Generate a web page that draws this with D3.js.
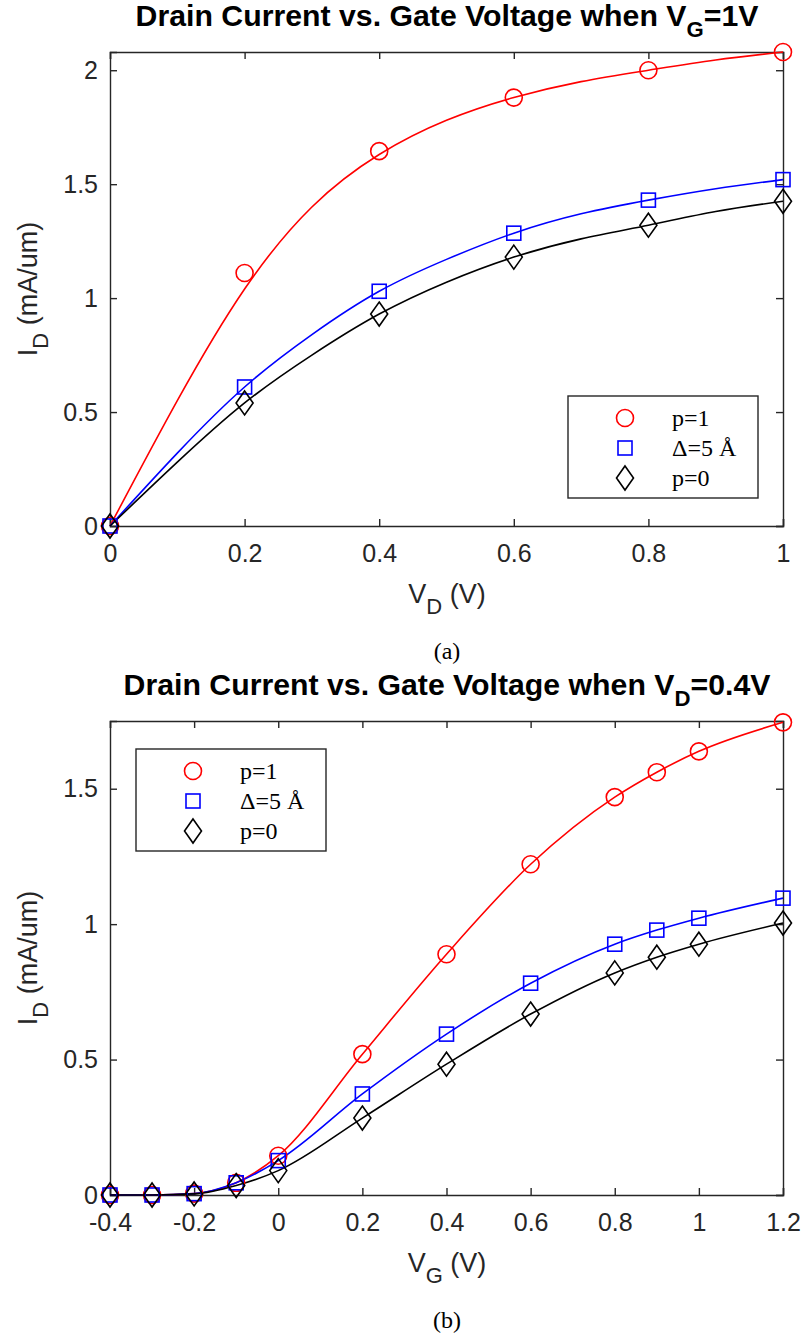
<!DOCTYPE html>
<html>
<head>
<meta charset="utf-8">
<script src="https://cdn.jsdelivr.net/npm/d3@7"></script>
<style>
  body { margin: 0; background: #fff; }
  svg { display: block; }
  .tick text { font-family: "Liberation Sans", Arial, sans-serif; font-size: 25px; fill: #262626; }
  .lbl { font-family: "Liberation Sans", Arial, sans-serif; font-size: 27px; fill: #262626; }
  .ttl { font-family: "Liberation Sans", Arial, sans-serif; font-weight: bold; font-size: 30px; fill: #000; }
  .serif { font-family: "Liberation Serif", "DejaVu Serif", serif; font-size: 24px; fill: #000; }
</style>
</head>
<body>
<div id="chart"></div>
<script>
// ---- data (a): I_D vs V_D at V_G = 1V ----
const vdPts = [0, 0.2, 0.4, 0.6, 0.8, 1.0];
const p1A = [0, 1.11, 1.645, 1.88, 2.00, 2.08];
const deltaA = [0, 0.61, 1.03, 1.285, 1.43, 1.52];
const p0A = [0, 0.54, 0.93, 1.18, 1.32, 1.425];

// fitted curves (a)
const vdFit = [0, 0.1, 0.2, 0.3, 0.4, 0.5, 0.6, 0.7, 0.8, 0.9, 1.0];
const p1FitA = [0, 0.55, 1.04, 1.40, 1.63, 1.78, 1.88, 1.95, 2.00, 2.045, 2.08];
const deltaFitA = [0, 0.32, 0.61, 0.84, 1.03, 1.17, 1.285, 1.37, 1.43, 1.48, 1.52];
const p0FitA = [0, 0.28, 0.54, 0.75, 0.93, 1.07, 1.18, 1.26, 1.32, 1.38, 1.425];

// ---- data (b): I_D vs V_G at V_D = 0.4V ----
const vgPts = [-0.4, -0.3, -0.2, -0.1, 0, 0.2, 0.4, 0.6, 0.8, 0.9, 1.0, 1.2];
const p1B = [0, 0, 0.005, 0.045, 0.145, 0.52, 0.889, 1.221, 1.469, 1.561, 1.638, 1.745];
const deltaB = [0, 0, 0.005, 0.045, 0.127, 0.373, 0.594, 0.782, 0.926, 0.978, 1.022, 1.096];
const p0B = [0, 0, 0.004, 0.035, 0.090, 0.284, 0.483, 0.668, 0.82, 0.878, 0.926, 1.004];

const xTicksA = [0, 0.2, 0.4, 0.6, 0.8, 1];
const yTicksA = [0, 0.5, 1, 1.5, 2];
const xTicksB = [-0.4, -0.2, 0, 0.2, 0.4, 0.6, 0.8, 1, 1.2];
const yTicksB = [0, 0.5, 1, 1.5];

const seriesNames = ["p=1", "\u0394=5 \u00C5", "p=0"];
const seriesColors = ["#ff0000", "#0000ff", "#000000"];
const seriesShapes = ["circle", "square", "diamond"];

const W = 804, H = 1338;
const svg = d3.select("#chart").append("svg")
    .attr("width", W)
    .attr("height", H);

function marker(g, shape, color, x, y) {
    if (shape === "circle") {
        g.append("circle").attr("cx", x).attr("cy", y).attr("r", 8.5)
            .attr("fill", "none").attr("stroke", color).attr("stroke-width", 1.6);
    } else if (shape === "square") {
        g.append("rect").attr("x", x - 7).attr("y", y - 7).attr("width", 14).attr("height", 14)
            .attr("fill", "none").attr("stroke", color).attr("stroke-width", 1.6);
    } else {
        g.append("path").attr("d", `M${x},${y - 12}L${x + 8.5},${y}L${x},${y + 12}L${x - 8.5},${y}Z`)
            .attr("fill", "none").attr("stroke", color).attr("stroke-width", 1.6);
    }
}

function drawPanel(cfg) {
    let x = d3.scaleLinear().domain(cfg.xDomain).range([110, 783]);
    let y = d3.scaleLinear().domain(cfg.yDomain).range([cfg.bottom, cfg.top]);
    let g = svg.append("g");

    // title (bold face squeezed horizontally to look like the narrow original)
    let t = g.append("text").attr("class", "ttl")
        .attr("text-anchor", "middle");
    t.append("tspan").text(cfg.title[0]);
    t.append("tspan").attr("font-size", 22).attr("dy", 11).text(cfg.title[1]);
    t.append("tspan").attr("dy", -11).text(cfg.title[2]);
    let tw = t.node().getBBox().width;
    t.attr("transform", `translate(447,${cfg.top - 26}) scale(${cfg.titleWidth / tw},1)`);

    // axes with inward ticks on all four sides
    let fmt = d => String(d);
    g.append("g").attr("transform", `translate(0,${cfg.bottom})`)
        .call(d3.axisBottom(x).tickValues(cfg.xTicks).tickSize(-7).tickPadding(18).tickFormat(fmt));
    g.append("g").attr("transform", `translate(0,${cfg.top})`)
        .call(d3.axisTop(x).tickValues(cfg.xTicks).tickSize(-7).tickFormat(""));
    g.append("g").attr("transform", "translate(110,0)")
        .call(d3.axisLeft(y).tickValues(cfg.yTicks).tickSize(-7).tickPadding(12).tickFormat(fmt));
    g.append("g").attr("transform", "translate(783,0)")
        .call(d3.axisRight(y).tickValues(cfg.yTicks).tickSize(-7).tickFormat(""));
    g.selectAll(".domain, .tick line").attr("stroke", "#262626").attr("stroke-width", 1.4);

    // axis labels
    let xl = g.append("text").attr("class", "lbl")
        .attr("x", 447).attr("y", cfg.bottom + 77).attr("text-anchor", "middle");
    xl.append("tspan").text("V");
    xl.append("tspan").attr("font-size", 22).attr("dy", 11).text(cfg.xSub);
    xl.append("tspan").attr("dy", -11).text(" (V)");

    let yl = g.append("text").attr("class", "lbl")
        .attr("transform", `translate(37,${(cfg.top + cfg.bottom) / 2}) rotate(-90)`)
        .attr("text-anchor", "middle");
    yl.append("tspan").text("I");
    yl.append("tspan").attr("font-size", 22).attr("dy", 11).text("D");
    yl.append("tspan").attr("dy", -11).text(" (mA/um)");

    // caption
    g.append("text").attr("class", "serif")
        .attr("x", 447).attr("y", cfg.bottom + 133).attr("text-anchor", "middle")
        .text(cfg.caption);

    // curves
    let line = d3.line().x(d => x(d[0])).y(d => y(d[1])).curve(cfg.curve);
    cfg.curves.forEach((c, i) => {
        g.append("path")
            .datum(c.xs.map((v, j) => [v, c.ys[j]]))
            .attr("d", line)
            .attr("fill", "none")
            .attr("stroke", seriesColors[i])
            .attr("stroke-width", 1.6);
    });

    // markers
    cfg.points.forEach((ys, i) => {
        cfg.xPts.forEach((xv, j) => marker(g, seriesShapes[i], seriesColors[i], x(xv), y(ys[j])));
    });

    // legend
    let lg = g.append("g").attr("transform", `translate(${cfg.legend[0]},${cfg.legend[1]})`);
    lg.append("rect").attr("width", 190).attr("height", 102)
        .attr("fill", "#fff").attr("stroke", "#262626").attr("stroke-width", 1.4);
    seriesNames.forEach((name, i) => {
        let yy = 22 + i * 30;
        marker(lg, seriesShapes[i], seriesColors[i], 57, yy);
        lg.append("text").attr("class", "serif")
            .attr("x", 104).attr("y", yy + 8).text(name);
    });
}

drawPanel({
    top: 52, bottom: 526,
    xDomain: [0, 1], yDomain: [0, 2.08],
    xTicks: xTicksA, yTicks: yTicksA,
    title: ["Drain Current vs. Gate Voltage when V", "G", "=1V"],
    titleWidth: 623,
    xSub: "D", caption: "(a)",
    xPts: vdPts,
    points: [p1A, deltaA, p0A],
    curve: d3.curveNatural,
    curves: [
        {xs: vdFit, ys: p1FitA},
        {xs: vdFit, ys: deltaFitA},
        {xs: vdFit, ys: p0FitA}
    ],
    legend: [568, 396]
});

drawPanel({
    top: 721, bottom: 1195,
    xDomain: [-0.4, 1.2], yDomain: [0, 1.75],
    xTicks: xTicksB, yTicks: yTicksB,
    title: ["Drain Current vs. Gate Voltage when V", "D", "=0.4V"],
    titleWidth: 647,
    xSub: "G", caption: "(b)",
    xPts: vgPts,
    points: [p1B, deltaB, p0B],
    curve: d3.curveMonotoneX,
    curves: [
        {xs: vgPts, ys: p1B},
        {xs: vgPts, ys: deltaB},
        {xs: vgPts, ys: p0B}
    ],
    legend: [136, 749]
});
</script>
</body>
</html>
